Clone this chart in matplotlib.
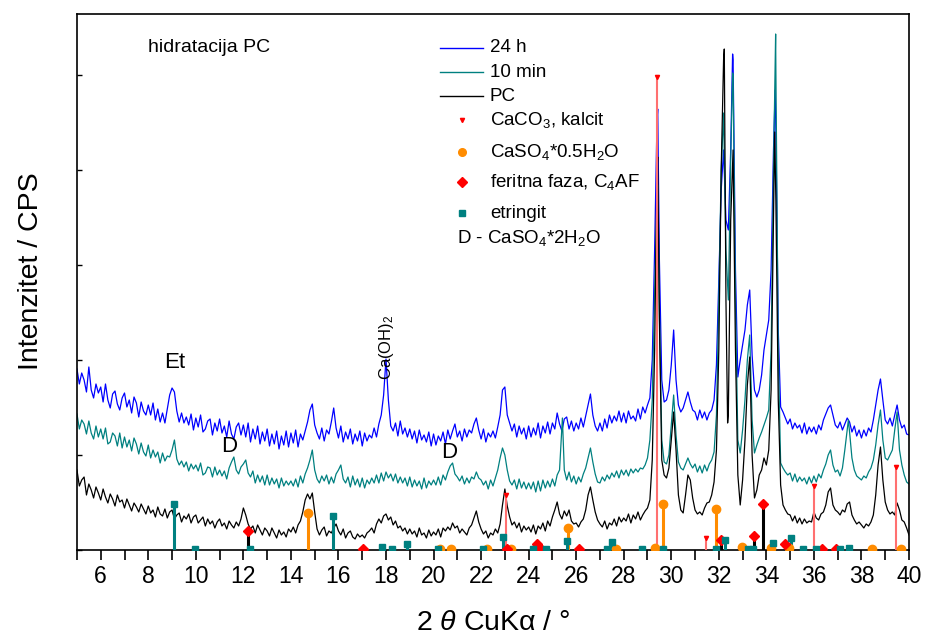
import numpy as np
import matplotlib
matplotlib.use("Agg")
import matplotlib.pyplot as plt
from matplotlib.ticker import MultipleLocator

plt.rcParams['font.family'] = ['Liberation Sans', 'DejaVu Sans']
plt.rcParams['mathtext.fontset'] = 'custom'
plt.rcParams['mathtext.rm'] = 'Liberation Sans'
plt.rcParams['mathtext.it'] = 'Liberation Sans:italic'
plt.rcParams['mathtext.bf'] = 'Liberation Sans:bold'

# ---------------- data: intensity (a.u.) at 0.1 deg steps, one row per degree (5..40)
pc_rows = [
    [80, 64, 70, 73, 55, 66, 60, 52, 63, 57],
    [50, 61, 53, 47, 56, 51, 44, 55, 48, 50],
    [42, 51, 45, 39, 47, 43, 38, 46, 41, 36],
    [44, 37, 40, 33, 43, 36, 34, 41, 32, 38],
    [40, 31, 35, 37, 28, 34, 31, 36, 27, 33],
    [35, 27, 30, 33, 24, 31, 26, 29, 22, 28],
    [31, 24, 27, 21, 29, 25, 22, 28, 24, 31],
    [42, 35, 26, 21, 24, 17, 25, 20, 15, 22],
    [19, 14, 22, 17, 12, 20, 15, 18, 13, 21],
    [18, 23, 17, 25, 29, 38, 50, 56, 51, 57],
    [38, 21, 15, 20, 23, 14, 19, 17, 22, 26],
    [19, 15, 21, 12, 17, 19, 13, 11, 16, 13],
    [15, 12, 17, 19, 22, 17, 26, 31, 27, 34],
    [36, 30, 33, 25, 29, 22, 24, 19, 22, 16],
    [21, 16, 19, 13, 22, 15, 17, 12, 20, 14],
    [18, 15, 21, 13, 22, 19, 23, 20, 27, 22],
    [24, 17, 21, 18, 15, 22, 25, 32, 39, 28],
    [21, 16, 19, 12, 17, 15, 21, 17, 26, 45],
    [61, 44, 33, 25, 28, 22, 27, 18, 24, 20],
    [23, 18, 25, 16, 24, 21, 27, 19, 29, 24],
    [33, 40, 48, 36, 31, 39, 34, 40, 29, 26],
    [27, 23, 28, 31, 40, 55, 63, 50, 38, 30],
    [26, 23, 29, 21, 27, 25, 31, 24, 33, 28],
    [32, 29, 36, 27, 35, 31, 38, 30, 35, 39],
    [42, 50, 90, 200, 380, 230, 90, 75, 72, 82],
    [110, 138, 100, 55, 40, 37, 55, 75, 70, 52],
    [40, 36, 38, 35, 42, 47, 48, 55, 68, 100],
    [200, 380, 490, 250, 135, 330, 400, 200, 75, 45],
    [70, 110, 165, 193, 95, 52, 60, 75, 80, 92],
    [85, 100, 160, 330, 350, 150, 65, 45, 40, 36],
    [35, 29, 34, 27, 32, 26, 31, 27, 29, 28],
    [38, 32, 30, 36, 38, 45, 58, 62, 45, 40],
    [38, 35, 40, 38, 46, 48, 35, 30, 26, 28],
    [25, 22, 26, 24, 28, 35, 55, 85, 103, 70],
    [48, 40, 36, 38, 35, 47, 40, 30, 28, 22],
    [15],
]
pc_peak_2theta = [29.43, 32.23, 32.37, 34.35]
pc_peak_counts = [393, 501, 127, 418]

h24_rows = [
    [181, 166, 177, 170, 158, 183, 160, 152, 166, 157],
    [163, 148, 166, 150, 142, 156, 159, 146, 140, 152],
    [157, 143, 150, 137, 153, 147, 133, 148, 139, 135],
    [145, 135, 147, 130, 141, 128, 137, 127, 141, 155],
    [162, 158, 139, 128, 137, 127, 133, 125, 136, 120],
    [132, 123, 135, 118, 121, 129, 131, 115, 127, 119],
    [131, 117, 124, 113, 129, 116, 111, 123, 127, 115],
    [125, 113, 127, 108, 121, 111, 124, 106, 118, 109],
    [121, 104, 116, 106, 119, 101, 114, 105, 119, 103],
    [117, 107, 120, 103, 116, 110, 119, 128, 140, 146],
    [125, 117, 111, 122, 109, 120, 116, 128, 142, 122],
    [112, 124, 108, 118, 111, 121, 106, 116, 109, 119],
    [104, 117, 109, 115, 112, 122, 113, 126, 135, 155],
    [191, 150, 124, 119, 127, 114, 129, 116, 122, 113],
    [121, 111, 119, 107, 120, 110, 115, 108, 118, 104],
    [116, 105, 114, 109, 118, 106, 120, 111, 119, 126],
    [113, 119, 109, 121, 113, 120, 117, 126, 132, 120],
    [111, 121, 108, 117, 113, 119, 112, 123, 135, 160],
    [163, 135, 127, 119, 126, 113, 124, 116, 122, 111],
    [124, 113, 122, 115, 127, 112, 124, 117, 128, 116],
    [127, 121, 137, 126, 119, 131, 133, 121, 129, 119],
    [127, 121, 132, 123, 134, 145, 156, 135, 124, 119],
    [127, 119, 131, 122, 135, 127, 134, 129, 139, 128],
    [137, 127, 139, 131, 134, 129, 141, 131, 143, 137],
    [145, 152, 190, 300, 430, 290, 170, 148, 150, 160],
    [185, 220, 170, 145, 138, 142, 150, 158, 148, 140],
    [138, 130, 140, 132, 138, 130, 137, 140, 150, 185],
    [270, 360, 400, 330, 320, 400, 490, 280, 173, 190],
    [205, 220, 245, 260, 195, 160, 153, 160, 175, 200],
    [215, 230, 280, 400, 420, 220, 143, 138, 132, 126],
    [131, 121, 127, 122, 125, 117, 127, 116, 123, 118],
    [123, 116, 125, 120, 130, 136, 142, 145, 135, 125],
    [122, 128, 120, 126, 132, 128, 118, 124, 114, 120],
    [112, 120, 114, 122, 118, 130, 145, 160, 171, 150],
    [130, 126, 132, 124, 135, 145, 130, 122, 125, 116],
    [115],
]
h24_peak_2theta = [29.43, 32.58, 34.37]
h24_peak_counts = [441, 496, 460]

m10_rows = [
    [136, 121, 130, 126, 116, 129, 117, 111, 124, 113],
    [121, 111, 122, 106, 108, 117, 114, 104, 117, 102],
    [113, 103, 110, 99, 112, 106, 96, 107, 98, 94],
    [105, 92, 100, 93, 98, 87, 97, 89, 94, 93],
    [100, 110, 91, 85, 89, 83, 88, 79, 86, 81],
    [85, 79, 87, 75, 77, 83, 82, 73, 83, 75],
    [80, 74, 79, 71, 82, 88, 93, 80, 76, 83],
    [86, 90, 77, 73, 79, 67, 75, 68, 74, 65],
    [75, 65, 72, 66, 71, 62, 72, 64, 69, 65],
    [69, 64, 71, 63, 74, 67, 76, 82, 90, 100],
    [80, 71, 67, 74, 69, 75, 66, 73, 67, 76],
    [80, 85, 71, 67, 73, 63, 74, 65, 71, 63],
    [72, 62, 70, 66, 72, 67, 75, 67, 77, 69],
    [78, 72, 76, 69, 76, 67, 73, 67, 72, 64],
    [73, 63, 70, 64, 69, 61, 72, 62, 69, 65],
    [70, 65, 73, 65, 75, 70, 78, 84, 87, 76],
    [73, 69, 74, 66, 72, 67, 73, 71, 78, 72],
    [70, 65, 69, 61, 70, 64, 72, 80, 92, 102],
    [95, 80, 69, 65, 70, 61, 71, 62, 68, 61],
    [67, 61, 68, 58, 69, 59, 70, 62, 69, 63],
    [71, 64, 75, 80, 125, 80, 70, 78, 68, 74],
    [66, 73, 68, 76, 82, 92, 102, 88, 76, 68],
    [67, 73, 69, 75, 71, 77, 73, 79, 72, 80],
    [75, 80, 74, 81, 77, 81, 78, 82, 81, 85],
    [92, 110, 150, 260, 345, 240, 110, 88, 86, 95],
    [125, 155, 115, 88, 82, 80, 86, 92, 86, 82],
    [86, 78, 84, 77, 85, 79, 86, 90, 98, 135],
    [250, 380, 437, 300, 250, 390, 475, 250, 110, 97],
    [120, 150, 190, 215, 130, 97, 105, 112, 118, 125],
    [132, 140, 200, 380, 480, 200, 87, 82, 78, 75],
    [77, 69, 76, 68, 73, 69, 72, 66, 73, 67],
    [74, 68, 76, 72, 80, 86, 95, 100, 85, 78],
    [80, 74, 82, 100, 120, 118, 92, 80, 74, 72],
    [70, 74, 72, 78, 82, 90, 105, 125, 140, 110],
    [92, 90, 95, 100, 120, 138, 100, 85, 75, 68],
    [66],
]
m10_peak_2theta = [25.42, 29.43, 32.58, 34.39, 37.45]
m10_peak_counts = [132, 365, 477, 516, 130]

# reference phase sticks
calcite_2theta = [23.03, 29.42, 31.45, 36.0, 39.44]
calcite_counts = [55, 473, 12, 64, 83]
hemi_2theta = [14.7, 20.27, 20.72, 22.24, 23.25, 25.67, 27.68, 29.32, 29.66,
               31.9, 32.96, 34.2, 34.94, 38.43, 39.65]
hemi_counts = [37, 1, 1, 1, 1, 22, 1, 2, 46, 41, 3, 2, 2, 1, 1]
ferrite_2theta = [12.18, 17.05, 23.07, 24.34, 24.48, 26.12, 32.1, 33.49, 33.87,
                  34.8, 36.33, 36.92]
ferrite_counts = [19, 1, 1, 6, 2, 1, 10, 14, 46, 6, 1, 1]
ettr_2theta = [9.08, 9.98, 12.3, 15.78, 17.83, 18.25, 18.9, 20.2, 22.1, 22.93,
               24.2, 24.73, 25.63, 27.28, 27.5, 28.75, 29.66, 31.87, 32.26,
               33.21, 33.45, 34.29, 35.04, 35.56, 36.1, 37.1, 37.46]
ettr_counts = [46, 1, 1, 34, 3, 1, 6, 1, 1, 13, 1, 1, 9, 1, 8, 1, 1, 1, 10,
               1, 1, 7, 12, 1, 1, 1, 2]

xticks_major = [6, 8, 10, 12, 14, 16, 18, 20, 22, 24, 26, 28, 30, 32, 34, 36, 38, 40]


def build(rows, px, py):
    xs, ys = [], []
    for i, row in enumerate(rows):
        for j, v in enumerate(row):
            xs.append(round(5 + i + 0.1 * j, 2))
            ys.append(v)
    xs += list(px)
    ys += list(py)
    order = np.argsort(xs, kind="stable")
    return np.array(xs)[order], np.array(ys)[order]


fig = plt.figure(figsize=(9.25, 6.37), dpi=100)
ax = fig.add_axes([0.0832, 0.1366, 0.8995, 0.8414])

x24, y24 = build(h24_rows, h24_peak_2theta, h24_peak_counts)
x10, y10 = build(m10_rows, m10_peak_2theta, m10_peak_counts)
xpc, ypc = build(pc_rows, pc_peak_2theta, pc_peak_counts)

ax.plot(x24, y24, color="#0000ff", lw=0.9, zorder=2)
ax.plot(x10, y10, color="#008080", lw=0.9, zorder=2.1)
ax.plot(xpc, ypc, color="black", lw=0.9, zorder=2.2)

# sticks
ax.vlines(calcite_2theta, 0, calcite_counts, color="#ff7070", lw=1.5, zorder=3)
ax.plot(calcite_2theta, calcite_counts, ls="none", marker="v", ms=3, color="red", zorder=3.1)
ax.vlines(hemi_2theta, 0, hemi_counts, color="#ff8c00", lw=2.2, zorder=3)
ax.plot(hemi_2theta, hemi_counts, ls="none", marker="o", ms=6, color="#ff8c00", zorder=3.2)
ax.vlines(ferrite_2theta, 0, ferrite_counts, color="black", lw=2.2, zorder=3)
ax.plot(ferrite_2theta, ferrite_counts, ls="none", marker="D", ms=5.5, color="red", zorder=3.3)
ax.vlines(ettr_2theta, 0, ettr_counts, color="#008080", lw=2.2, zorder=3)
ax.plot(ettr_2theta, ettr_counts, ls="none", marker="s", ms=4.5, color="#008080", zorder=3.4)

ax.set_xlim(5, 40)
ax.set_ylim(0, 536)
ax.set_xticks(xticks_major)
ax.xaxis.set_minor_locator(MultipleLocator(1))
ax.set_yticks([0, 95, 190, 285, 380, 475])
ax.set_yticklabels([])
ax.tick_params(axis="x", which="major", direction="out", length=7, width=1.2,
               labelsize=16.5, pad=4)
ax.tick_params(axis="x", which="minor", direction="out", length=7, width=1.2)
ax.tick_params(axis="y", which="major", direction="in", length=3.5, width=1.0)
for s in ax.spines.values():
    s.set_linewidth(1.2)

ax.set_xlabel("2 $\\mathit{\\theta}$ CuK\u03b1 / \u00b0", fontsize=20.5, labelpad=16)
ax.set_ylabel("Intenzitet / CPS", fontsize=20.5)
ax.yaxis.set_label_coords(-0.04, 0.52)

# annotations
ax.text(0.0853, 0.9384, "hidratacija PC", transform=ax.transAxes, fontsize=14,
        va="center", ha="left")
ax.text(0.1178, 0.3507, "Et", transform=ax.transAxes, fontsize=16, ha="center", va="center")
ax.text(0.1827, 0.1922, "D", transform=ax.transAxes, fontsize=16, ha="center", va="center")
ax.text(0.4471, 0.1828, "D", transform=ax.transAxes, fontsize=16, ha="center", va="center")
ax.text(0.3726, 0.3787, "Ca(OH)$_2$", transform=ax.transAxes, fontsize=12,
        ha="center", va="center", rotation=90)

# legend (manual)
leg_lines = [("#0000ff", "24 h", 0.9366), ("#008080", "10 min", 0.8918), ("black", "PC", 0.847)]
for col, lab, yy in leg_lines:
    ax.plot([0.4363, 0.488], [yy, yy], color=col, lw=1.0, transform=ax.transAxes)
    ax.text(0.4964, yy, lab, transform=ax.transAxes, fontsize=13.5, va="center", ha="left")

leg_marks = [("v", "red", 3, "CaCO$_3$, kalcit", 0.8022),
             ("o", "#ff8c00", 5.5, "CaSO$_4$*0.5H$_2$O", 0.7425),
             ("D", "red", 5, "feritna faza, C$_4$AF", 0.6866),
             ("s", "#008080", 4.5, "etringit", 0.6287)]
for mk, col, ms, lab, yy in leg_marks:
    ax.plot([0.4627], [yy], marker=mk, color=col, ms=ms, ls="none", transform=ax.transAxes)
    ax.text(0.4964, yy, lab, transform=ax.transAxes, fontsize=13.5, va="center", ha="left")
ax.text(0.4567, 0.5821, "D - CaSO$_4$*2H$_2$O", transform=ax.transAxes, fontsize=13.5,
        va="center", ha="left")

fig.savefig("out.png", dpi=100)
